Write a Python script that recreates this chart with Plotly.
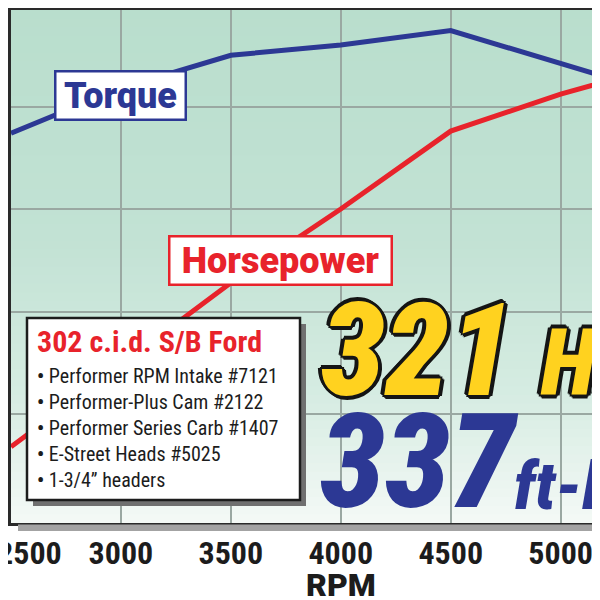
import plotly.graph_objects as go

# ---------------- data ----------------
rpm = [2500, 3000, 3500, 4000, 4500, 5000, 5500]
torque = [287, 309, 325, 330, 337, 321, 305]
horsepower = [134, 174, 214, 250, 288, 306, 321]
x_ticks = [2500, 3000, 3500, 4000, 4500, 5000]
y_grid = [150, 200, 250, 300]
spec_title = "302 c.i.d. S/B Ford"
spec_items = ["Performer RPM Intake #7121", "Performer-Plus Cam #2122",
              "Performer Series Carb #1407", "E-Street Heads #5025",
              "1-3/4\u201d headers"]
peak_hp = "321"
peak_tq = "337"

# ---------------- layout geometry ----------------
# the page body adds an 8px margin, so the figure is 592x592 and every
# position below is given in page pixels and converted.
OFF = 8
W, H = 592, 592
L, R, T, B = 3, 0, 2, 77
PW, PH = W - L - R, H - T - B

def px(x):
    return (x - OFF - L) / PW

def py(y):
    return (H - B - (y - OFF)) / PH

COND = "Roboto Condensed, Open Sans Condensed, DejaVu Sans Condensed, sans-serif"
ROUND = "Roboto, Lato, DejaVu Sans, sans-serif"
BLUE = "#2C3894"
RED = "#E8232B"
INK = "#1c1c1c"

fig = go.Figure()
fig.add_trace(go.Scatter(x=rpm, y=torque, mode="lines", name="Torque",
                         line=dict(color=BLUE, width=5), showlegend=False))
fig.add_trace(go.Scatter(x=rpm, y=horsepower, mode="lines", name="Horsepower",
                         line=dict(color=RED, width=5), showlegend=False))

shapes = []
# background gradient (bands)
stops = [(0.0, (185, 222, 205)), (0.45, (194, 226, 212)),
         (0.75, (214, 236, 226)), (1.0, (244, 249, 246))]

def col(t):
    for i in range(len(stops) - 1):
        t0, c0 = stops[i]
        t1, c1 = stops[i + 1]
        if t0 <= t <= t1:
            f = (t - t0) / (t1 - t0)
            c = [round(c0[k] + (c1[k] - c0[k]) * f) for k in range(3)]
            return "rgb(%d,%d,%d)" % tuple(c)
    return "rgb(%d,%d,%d)" % stops[-1][1]

N = 60
for i in range(N):
    t = (i + 0.5) / N
    shapes.append(dict(type="rect", xref="paper", yref="paper", x0=0, x1=1,
                       y0=max(0, 1 - (i + 1) / N - 0.002), y1=1 - i / N,
                       fillcolor=col(t), line=dict(width=0), layer="below"))

# frame shadow under bottom border
shapes.append(dict(type="rect", xref="paper", yref="paper",
                   x0=px(18), x1=px(610), y0=py(531), y1=py(524.5),
                   fillcolor="#A3A3A3", line=dict(width=0), layer="above"))
# info box shadow and box
shapes.append(dict(type="rect", xref="paper", yref="paper",
                   x0=px(33), x1=px(306), y0=py(506), y1=py(324),
                   fillcolor="#707070", line=dict(width=0), layer="above"))
shapes.append(dict(type="rect", xref="paper", yref="paper",
                   x0=px(27), x1=px(300), y0=py(500), y1=py(318),
                   fillcolor="white", line=dict(color=INK, width=2.5),
                   layer="above"))

ann = []
# Torque label
ann.append(dict(xref="paper", yref="paper", x=px(120), y=py(95),
                xanchor="center", yanchor="middle", showarrow=False,
                text="Torque", width=128, height=46, borderpad=0,
                bgcolor="white", bordercolor=BLUE, borderwidth=2.5,
                font=dict(family=ROUND, size=36, color=BLUE, weight=900)))
# Horsepower label
ann.append(dict(xref="paper", yref="paper", x=px(280), y=py(260),
                xanchor="center", yanchor="middle", showarrow=False,
                text="Horsepower", width=220, height=46, borderpad=0,
                bgcolor="white", bordercolor=RED, borderwidth=2.5,
                font=dict(family=ROUND, size=36, color=RED, weight=900)))
# spec title
ann.append(dict(xref="paper", yref="paper", x=px(35), y=py(341),
                xanchor="left", yanchor="middle", showarrow=False,
                text=spec_title,
                font=dict(family=COND, size=30, color=RED, weight="bold")))
# spec bullets
ann.append(dict(xref="paper", yref="paper", x=px(35), y=py(428),
                xanchor="left", yanchor="middle", showarrow=False, align="left",
                text="<br>".join("<b>\u2022</b> " + s for s in spec_items),
                font=dict(family=COND, size=20, color=INK)))

outline = ", ".join("%dpx %dpx 0 #151515" % (dx, dy) for dx, dy in
                    [(3, 0), (-3, 0), (0, 3), (0, -3), (2, 2), (-2, -2),
                     (2, -2), (-2, 2), (4, 1), (-4, -1), (1, 4), (-1, -4)])
# 321 HP
ann.append(dict(xref="paper", yref="paper", x=px(319), y=py(350),
                xanchor="left", yanchor="middle", showarrow=False,
                text=peak_hp,
                font=dict(family=COND, size=129, color="#FFD21F",
                          weight=900, style="italic", shadow=outline)))
ann.append(dict(xref="paper", yref="paper", x=px(538), y=py(362),
                xanchor="left", yanchor="middle", showarrow=False,
                text="HP",
                font=dict(family=COND, size=92, color="#FFD21F",
                          weight=900, style="italic", shadow=outline)))
# 337 ft-lbs
ann.append(dict(xref="paper", yref="paper", x=px(318), y=py(462),
                xanchor="left", yanchor="middle", showarrow=False,
                text=peak_tq,
                font=dict(family=COND, size=131, color=BLUE,
                          weight=900, style="italic")))
ann.append(dict(xref="paper", yref="paper", x=px(512), y=py(486),
                xanchor="left", yanchor="middle", showarrow=False,
                text="ft-lbs",
                font=dict(family=COND, size=66, color=BLUE,
                          weight=900, style="italic")))
# RPM axis title
ann.append(dict(xref="x", yref="paper", x=4000, y=py(585),
                xanchor="center", yanchor="middle", showarrow=False,
                text="RPM",
                font=dict(family=ROUND, size=32, color=INK, weight=900)))

# first label sits on the page edge; pad it so most of its digits show
tick_text = [("\u00a0" * 5 + str(v)) if v == x_ticks[0] else str(v)
             for v in x_ticks]

fig.update_layout(
    width=W, height=H,
    margin=dict(l=L, r=R, t=T, b=B, autoexpand=False),
    paper_bgcolor="white", plot_bgcolor="rgba(0,0,0,0)",
    shapes=shapes, annotations=ann,
    xaxis=dict(range=[2500, 5179], tickvals=x_ticks, ticktext=tick_text,
               showgrid=True, gridcolor="#9AA8A2", gridwidth=1.5,
               showline=True, linecolor="#2a2a2a", linewidth=3, mirror=True,
               zeroline=False, ticks="", ticklabelstandoff=0,
               ticklabeloverflow="allow", automargin=False,
               tickfont=dict(family=COND, size=32, color=INK, weight="bold")),
    yaxis=dict(range=[96.83, 347.07], tickvals=y_grid, showticklabels=False,
               showgrid=True, gridcolor="#9AA8A2", gridwidth=1.5,
               showline=True, linecolor="#2a2a2a", linewidth=3, mirror=False,
               zeroline=False, ticks="", automargin=False),
)

fig.write_html("out.html")
